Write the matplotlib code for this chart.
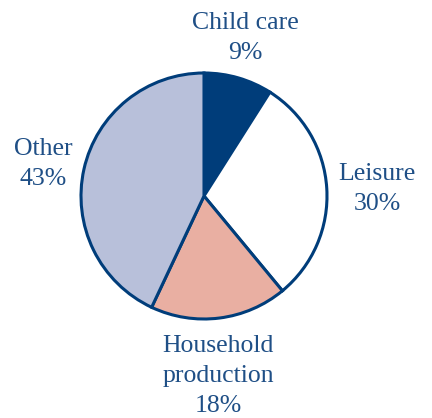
import matplotlib.pyplot as plt

labels = ["Child care", "Leisure", "Household\nproduction", "Other"]
shares = [9, 30, 18, 43]
colors = ["#003d7a", "#ffffff", "#e9afa2", "#b8c0da"]

# label anchor points in pixel space (x, y from top)
label_pos = [(245, 38), (377, 189), (218, 376), (43, 164)]

W, H = 432, 418
fig = plt.figure(figsize=(W / 100, H / 100), dpi=100)
ax = fig.add_axes([0, 0, 1, 1])

ax.pie(
    shares,
    colors=colors,
    startangle=90,
    counterclock=False,
    center=(204, H - 196),
    radius=123,
    wedgeprops={"edgecolor": "#003d7a", "linewidth": 2.2},
    frame=True,
)
ax.set_xlim(0, W)
ax.set_ylim(0, H)
ax.axis("off")

for lab, val, (px, py) in zip(labels, shares, label_pos):
    ax.text(
        px, H - py, f"{lab}\n{val}%",
        ha="center", va="center", fontsize=18.5,
        family="Liberation Serif", color="#1f4f86", linespacing=1.45,
    )

fig.savefig("out.png", dpi=100)
